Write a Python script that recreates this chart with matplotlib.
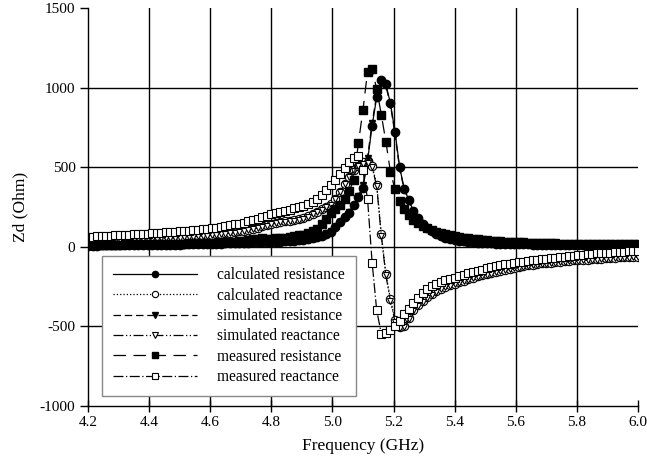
import numpy as np
import matplotlib
matplotlib.use('Agg')
import matplotlib.pyplot as plt

plt.rcParams['font.family'] = ['Liberation Serif', 'DejaVu Serif']
plt.rcParams['axes.unicode_minus'] = False

# Frequency grid (GHz), 0.015 GHz step
freq = np.linspace(4.2, 6.0, 121)

calc_res = [
    8, 8, 8, 9, 9, 9, 9, 10, 10, 10,
    10, 11, 11, 11, 12, 12, 12, 13, 13, 14,
    14, 15, 15, 16, 16, 17, 18, 18, 19, 20,
    21, 22, 23, 24, 25, 26, 27, 28, 29, 30,
    30, 31, 33, 35, 37, 39, 42, 45, 49, 54,
    60, 70, 82, 95, 122, 153, 185, 215, 260, 310,
    370, 540, 760, 940, 1045, 1020, 900, 720, 500, 365,
    295, 225, 178, 145, 118, 98, 80, 67, 56, 48,
    42, 38, 34, 31, 28, 26, 24, 22, 21, 20,
    19, 18, 17, 16, 16, 15, 15, 14, 14, 13,
    13, 13, 12, 12, 12, 11, 11, 11, 11, 10,
    10, 10, 10, 10, 10, 9, 9, 9, 9, 9, 9]

calc_reac = [
    38, 39, 40, 41, 42, 43, 44, 45, 46, 47,
    48, 49, 50, 51, 52, 53, 55, 56, 57, 58,
    60, 62, 64, 66, 68, 70, 72, 75, 78, 81,
    84, 88, 92, 97, 102, 108, 114, 121, 128, 136,
    146, 152, 158, 162, 165, 169, 172, 180, 192, 207,
    220, 235, 250, 268, 300, 345, 395, 440, 480, 510,
    530, 535, 510, 390, 80, -170, -330, -460, -505, -500,
    -450, -400, -365, -340, -315, -295, -278, -263, -250, -240,
    -232, -222, -212, -203, -194, -186, -178, -171, -164, -157,
    -150, -144, -138, -132, -127, -122, -117, -113, -109, -105,
    -102, -99, -96, -93, -90, -88, -86, -84, -82, -80,
    -78, -76, -74, -72, -70, -69, -67, -66, -64, -63, -62]

sim_res = [
    9, 9, 9, 9, 10, 10, 10, 10, 11, 11,
    11, 11, 12, 12, 12, 13, 13, 13, 14, 14,
    15, 15, 16, 16, 17, 17, 18, 19, 20, 21,
    22, 23, 24, 25, 26, 27, 28, 29, 30, 31,
    31, 32, 34, 36, 38, 40, 43, 46, 50, 55,
    62, 72, 84, 98, 125, 156, 188, 220, 265, 318,
    385, 560, 780, 955, 1040, 1010, 890, 705, 490, 360,
    290, 222, 176, 143, 117, 97, 80, 67, 56, 48,
    42, 38, 34, 31, 28, 26, 24, 22, 21, 20,
    19, 18, 17, 16, 16, 15, 15, 14, 14, 13,
    13, 13, 12, 12, 12, 11, 11, 11, 11, 10,
    10, 10, 10, 10, 10, 9, 9, 9, 9, 9, 9]

sim_reac = [
    35, 36, 37, 38, 39, 40, 41, 42, 43, 44,
    45, 46, 47, 48, 49, 50, 52, 53, 54, 55,
    57, 59, 61, 63, 65, 67, 69, 72, 75, 78,
    81, 85, 89, 94, 99, 105, 111, 118, 125, 133,
    142, 148, 154, 158, 161, 165, 169, 177, 189, 204,
    217, 232, 247, 265, 297, 342, 392, 437, 478, 505,
    520, 525, 500, 380, 70, -180, -340, -470, -510, -505,
    -455, -405, -370, -345, -320, -300, -282, -267, -254, -244,
    -236, -226, -216, -207, -198, -190, -182, -175, -168, -161,
    -154, -148, -142, -136, -131, -126, -121, -117, -113, -109,
    -106, -103, -100, -97, -94, -92, -90, -88, -86, -84,
    -82, -80, -78, -76, -74, -73, -71, -70, -68, -67, -66]

meas_res = [
    12, 12, 13, 13, 13, 14, 14, 14, 15, 15,
    15, 16, 16, 16, 17, 17, 18, 18, 19, 19,
    20, 20, 21, 22, 22, 23, 24, 25, 26, 27,
    28, 30, 32, 35, 38, 42, 46, 50, 52, 50,
    50, 52, 55, 58, 62, 66, 71, 77, 85, 97,
    113, 140, 175, 210, 240, 265, 300, 350, 420, 650,
    860, 1100, 1115, 990, 830, 660, 470, 360, 290, 240,
    200, 170, 148, 130, 115, 103, 93, 85, 78, 72,
    67, 62, 58, 54, 50, 47, 44, 41, 39, 37,
    35, 33, 31, 30, 28, 27, 26, 25, 24, 23,
    22, 21, 21, 20, 20, 19, 19, 18, 18, 18,
    17, 17, 17, 16, 16, 16, 15, 15, 15, 15, 15]

meas_reac = [
    63, 64, 66, 67, 69, 70, 72, 73, 75, 76,
    78, 79, 81, 83, 84, 86, 88, 90, 92, 94,
    96, 98, 100, 103, 106, 109, 112, 116, 120, 124,
    129, 134, 140, 146, 152, 159, 167, 175, 184, 195,
    207, 213, 220, 227, 234, 241, 249, 258, 268, 282,
    300, 325, 355, 385, 420, 455, 495, 530, 555, 570,
    480, 300, -100, -400, -545, -540, -525, -500, -465, -425,
    -390, -355, -322, -293, -268, -248, -232, -220, -210, -202,
    -195, -185, -176, -167, -158, -150, -143, -136, -129, -122,
    -116, -111, -106, -101, -97, -93, -89, -85, -81, -78,
    -74, -71, -68, -65, -62, -59, -56, -53, -50, -47,
    -44, -42, -40, -38, -36, -34, -32, -30, -28, -26, -24]

x_ticks = [4.2, 4.4, 4.6, 4.8, 5.0, 5.2, 5.4, 5.6, 5.8, 6.0]
y_ticks = [-1000, -500, 0, 500, 1000, 1500]

fig = plt.figure(figsize=(6.47, 4.68), dpi=100)
ax = fig.add_axes([0.136, 0.1325, 0.850, 0.8505])

# interior grid lines only
for xv in x_ticks[1:-1]:
    ax.axvline(xv, color='black', lw=1.0, zorder=0)
for yv in y_ticks[1:-1]:
    ax.axhline(yv, color='black', lw=1.0, zorder=0)

lw = 0.9
ax.plot(freq, calc_res, '-', color='black', lw=lw, marker='o', ms=6,
        mfc='black', mec='black', label='calculated resistance')
ax.plot(freq, calc_reac, ':', color='black', lw=lw, marker='o', ms=6,
        mfc='white', mec='black', mew=0.8, label='calculated reactance')
ax.plot(freq, sim_res, color='black', lw=lw, ls=(0, (6, 3)), marker='v', ms=5,
        mfc='black', mec='black', label='simulated resistance')
ax.plot(freq, sim_reac, color='black', lw=lw, ls=(0, (8, 2, 1, 2, 1, 2)), marker='v', ms=5,
        mfc='white', mec='black', mew=0.8, label='simulated reactance')
ax.plot(freq, meas_res, color='black', lw=lw, ls=(0, (10, 6)), marker='s', ms=5.5,
        mfc='black', mec='black', label='measured resistance')
ax.plot(freq, meas_reac, color='black', lw=lw, ls=(0, (8, 2, 1, 2)), marker='s', ms=5.5,
        mfc='white', mec='black', mew=0.8, label='measured reactance')

ax.set_xlim(4.2, 6.0)
ax.set_ylim(-1000, 1500)
ax.set_xticks(x_ticks)
ax.set_xticklabels([f'{v:.1f}' for v in x_ticks])
ax.set_yticks(y_ticks)
ax.spines['top'].set_visible(False)
ax.spines['right'].set_visible(False)
ax.spines['left'].set_linewidth(1.0)
ax.spines['bottom'].set_linewidth(1.0)
ax.tick_params(axis='x', direction='inout', length=8, width=1.0, labelsize=11, pad=3)
ax.tick_params(axis='y', direction='out', length=6, width=1.0, labelsize=11, pad=3)

ax.set_xlabel('Frequency (GHz)', fontsize=12.5, labelpad=7)
ax.set_ylabel('Zd (Ohm)', fontsize=12.5, labelpad=8)

leg = ax.legend(loc='lower left', bbox_to_anchor=(0.0255, 0.025), fontsize=11.2,
                handlelength=5.4, handletextpad=1.3, labelspacing=0.28,
                borderpad=0.7, borderaxespad=0, fancybox=False, framealpha=1,
                markerscale=0.75)
leg.get_frame().set_edgecolor('#888888')
leg.get_frame().set_linewidth(1.0)

plt.savefig('out.png', dpi=100)
